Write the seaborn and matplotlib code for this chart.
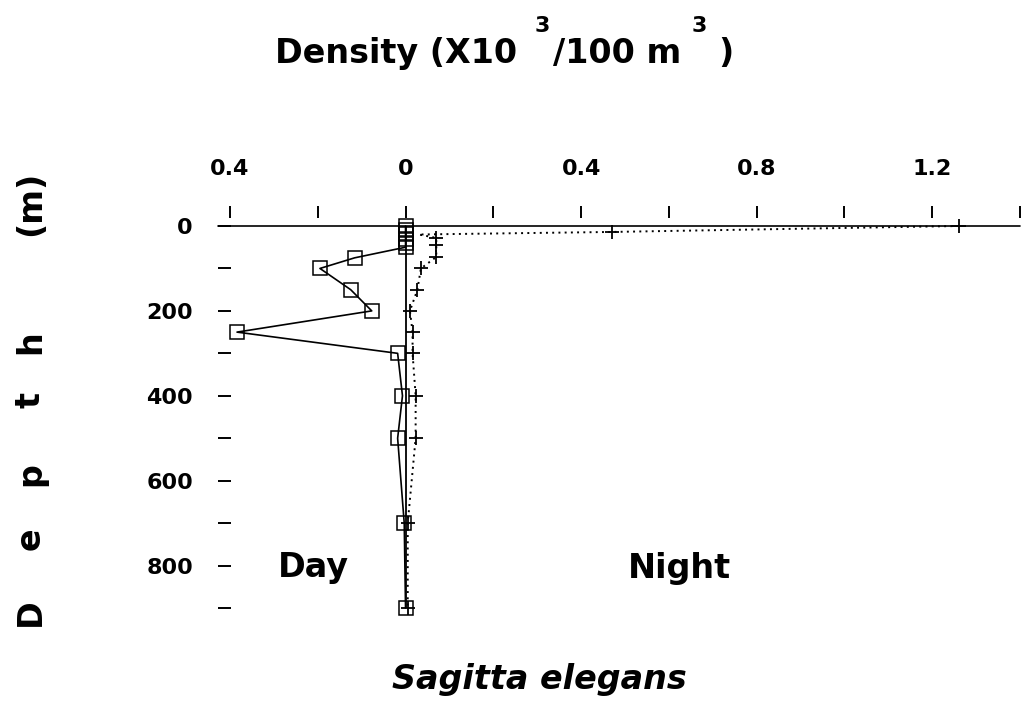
import matplotlib
matplotlib.use("Agg")
import matplotlib.pyplot as plt
import seaborn as sns
from matplotlib.ticker import FixedLocator, FixedFormatter

# ---------------- data ----------------
day_depth = [0, 10, 20, 30, 40, 50, 75, 100, 150, 200, 250, 300, 400, 500, 700, 900]
day_density = [0.0, 0.0, 0.0, 0.0, 0.0, 0.0, -0.116, -0.195, -0.125, -0.077,
               -0.384, -0.018, -0.007, -0.018, -0.003, 0.0]

night_depth = [0, 14, 20, 28, 45, 73, 100, 150, 200, 250, 300, 400, 500, 700, 900]
night_density = [1.26, 0.47, 0.03, 0.07, 0.07, 0.07, 0.035, 0.027, 0.01, 0.016,
                 0.016, 0.023, 0.023, 0.005, 0.005]
night_marked = [0, 1, 3, 4, 5, 6, 7, 8, 9, 10, 11, 12, 13, 14]

x_ticks = [-0.4, -0.2, 0.0, 0.2, 0.4, 0.6, 0.8, 1.0, 1.2, 1.4]
x_tick_labels = ["0.4", "", "0", "", "0.4", "", "0.8", "", "1.2", ""]
y_ticks = [0, 100, 200, 300, 400, 500, 600, 700, 800, 900]
y_tick_labels = ["0", "", "200", "", "400", "", "600", "", "800", ""]

# ---------------- style ----------------
sns.set_style("white")
plt.rcParams["font.family"] = ["DejaVu Sans"]
plt.rcParams["font.weight"] = "bold"

W_PX, H_PX = 1022, 702
fig = plt.figure(figsize=(W_PX / 100, H_PX / 100), dpi=100)

def fx(x):
    return x / W_PX

def fy(y):
    return 1 - y / H_PX

ax_left, ax_right, ax_top, ax_bottom = 218, 1020, 226, 616.5
ax = fig.add_axes([fx(ax_left), fy(ax_bottom), (ax_right - ax_left) / W_PX,
                   (ax_bottom - ax_top) / H_PX])
ax.set_facecolor("white")

# Day: solid line, open squares
sns.lineplot(x=day_density, y=day_depth, ax=ax, sort=False, estimator=None,
             color="black", lw=1.2, marker="s", markersize=9.5,
             markerfacecolor="none", markeredgecolor="black",
             markeredgewidth=1.1, clip_on=False)

# Night: dotted line, plus markers
sns.lineplot(x=night_density, y=night_depth, ax=ax, sort=False, estimator=None,
             color="black", lw=1.4, linestyle=(0, (1.0, 2.2)), marker="+",
             markersize=10, markeredgecolor="black", markeredgewidth=1.3,
             markevery=night_marked, clip_on=False)

# axis lines
ax.axhline(0, color="black", lw=1.2, clip_on=False, zorder=1)
ax.vlines(0, 0, max(day_depth), colors="black", lw=1.3, zorder=1)

ax.set_xlim(-0.4273, 1.4)
ax.set_ylim(920, 0)

for s in ax.spines.values():
    s.set_visible(False)
ax.spines["top"].set_position(("outward", 6))

ax.xaxis.tick_top()
ax.xaxis.set_major_locator(FixedLocator(x_ticks))
ax.xaxis.set_major_formatter(FixedFormatter(x_tick_labels))
ax.yaxis.set_major_locator(FixedLocator(y_ticks))
ax.yaxis.set_major_formatter(FixedFormatter(y_tick_labels))
ax.tick_params(axis="x", top=True, bottom=False, direction="out", length=8.6,
               width=1.4, pad=19, labelsize=16, colors="black")
ax.tick_params(axis="y", left=True, right=False, direction="in", length=9.4,
               width=1.4, pad=18, labelsize=16, colors="black")
ax.set_xlabel("")
ax.set_ylabel("")
ax.grid(False)

# ---------------- texts ----------------
bold = dict(fontweight="bold", color="black", ha="left", va="baseline")
fig.text(fx(275), fy(63), "Density (X10", fontsize=24, **bold)
fig.text(fx(535), fy(32), "3", fontsize=16, **bold)
fig.text(fx(553), fy(63), "/100 m", fontsize=24, **bold)
fig.text(fx(692), fy(32), "3", fontsize=16, **bold)
fig.text(fx(718), fy(63), ")", fontsize=24, **bold)

fig.text(fx(278), fy(577), "Day", fontsize=24, **bold)
fig.text(fx(628), fy(578), "Night", fontsize=24, **bold)
fig.text(fx(392), fy(689), "Sagitta elegans", fontsize=24, fontstyle="italic",
         **bold)

depth_letters = ["D", "e", "p", "t", "h", "(m)"]
depth_letter_y = [612, 539, 474, 400, 342, 203]
for letter, yy in zip(depth_letters, depth_letter_y):
    fig.text(fx(40), fy(yy), letter, fontsize=24, fontweight="bold",
             color="black", rotation=90, rotation_mode="anchor",
             ha="center", va="baseline")

fig.savefig("out.png", dpi=100, facecolor="white")
